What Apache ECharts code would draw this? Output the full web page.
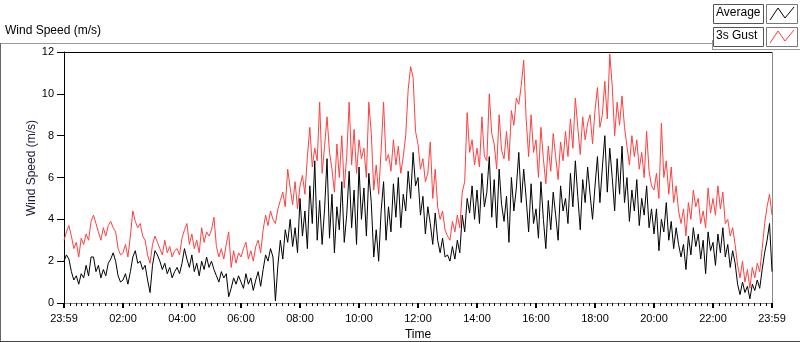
<!DOCTYPE html>
<html>
<head>
<meta charset="utf-8">
<script src="https://cdn.jsdelivr.net/npm/echarts@6/dist/echarts.min.js"></script>
<style>
  html, body { margin: 0; padding: 0; background: #fff; }
  #chart { width: 800px; height: 342px; }
</style>
</head>
<body>
<div id="chart"></div>
<script>
// one reading every 5 minutes, starting 23:59
var stepMin = 5;
var tickLabels = ['23:59', '02:00', '04:00', '06:00', '08:00', '10:00', '12:00',
  '14:00', '16:00', '18:00', '20:00', '22:00', '23:59'];

var average = [
  2.0, 2.3, 2.1, 1.5, 1.1, 1.3, 0.9, 1.4, 1.2, 1.8, 1.3, 2.2,
  2.2, 1.5, 1.8, 1.2, 1.6, 1.3, 1.9, 2.1, 2.4, 2.0, 1.3, 1.0,
  1.1, 1.4, 0.9, 1.5, 2.2, 2.5, 1.9, 2.0, 1.6, 1.8, 1.1, 0.5,
  1.8, 2.5, 2.3, 2.0, 1.6, 1.9, 1.4, 1.7, 1.2, 1.5, 1.7, 1.4,
  1.9, 2.6, 2.1, 1.7, 2.3, 1.5, 1.9, 1.3, 2.0, 1.6, 2.2, 1.7,
  2.0, 1.6, 1.3, 1.0, 1.5, 1.2, 1.4, 0.3, 0.7, 1.2, 0.9, 1.3,
  1.0, 0.7, 1.4, 0.9, 1.2, 0.6, 1.1, 1.5, 0.8, 1.6, 2.3, 2.0,
  2.6, 2.2, 0.1, 1.8, 3.0, 2.1, 3.5, 2.9, 4.0, 2.7, 3.6, 2.4,
  5.0, 3.2, 4.4, 2.6, 5.6, 3.8, 6.8, 3.0, 4.9, 2.8, 4.5, 6.9,
  3.1, 5.2, 2.4, 4.6, 3.5, 5.8, 2.9, 4.2, 6.3, 3.6, 5.4, 2.8,
  6.5, 4.0, 5.5, 3.2, 6.2, 4.8, 2.2, 3.5, 2.0, 4.4, 5.8, 3.0,
  4.6, 3.4, 5.7, 4.1, 6.0, 3.6, 5.2, 4.4, 6.3, 5.0, 7.2, 5.6,
  6.0, 4.2, 5.1, 3.3, 4.6, 3.8, 2.8, 4.3, 3.0, 2.4, 3.1, 2.2,
  2.3, 2.0, 2.7, 2.1, 3.0, 2.4, 4.2, 3.4, 5.0, 4.3, 5.6, 4.0,
  5.4, 3.8, 6.2, 4.6, 5.3, 7.0, 4.1, 5.9, 3.6, 6.4, 4.7, 3.9,
  5.1, 2.9, 6.0, 4.4, 5.5, 7.2, 4.8, 6.4, 5.0, 3.4, 5.7, 3.8,
  4.5, 3.1, 5.8, 4.0, 2.6, 4.9, 3.5, 5.3, 4.2, 3.0, 5.6, 4.4,
  5.0, 3.8, 6.2, 4.6, 6.8, 5.1, 3.5, 5.9, 4.8, 6.5, 5.2, 4.0,
  5.6, 7.0, 4.8, 6.5, 8.0, 5.3, 7.4, 6.0, 4.4, 6.9, 5.2, 7.5,
  4.8, 6.0, 3.9, 5.4, 4.4, 5.9, 3.7, 5.0, 4.2, 5.6, 3.6, 4.5,
  3.3, 4.5, 2.5, 4.0, 3.4, 4.8, 3.0, 3.9, 2.6, 3.6, 2.8, 2.2,
  2.8, 1.6, 3.2, 2.3, 3.6, 2.7, 3.3, 2.1, 3.0, 1.4, 3.4, 2.5,
  2.9, 1.8, 3.3, 2.4, 3.6, 2.2, 2.8, 1.7, 2.5, 1.9, 0.9, 0.4,
  1.0, 0.5, 0.8, 0.2, 0.9, 0.6, 1.1, 0.7, 1.6, 2.4, 3.0, 3.8, 1.5
];

var gust = [
  3.0, 3.4, 3.7, 3.2, 2.6, 2.9, 2.2, 3.1, 2.8, 3.3, 3.0, 3.9,
  4.2, 3.8, 3.4, 3.0, 3.6, 3.2, 3.7, 3.9, 3.6, 3.4, 2.6, 2.3,
  2.4, 2.8, 2.2, 3.2, 4.4, 3.9, 3.6, 3.8, 3.2, 3.0, 2.3, 1.9,
  2.8, 3.2, 2.9, 2.6, 2.3, 3.0, 2.4, 2.7, 2.2, 2.5, 2.6, 2.3,
  3.1, 3.5, 3.8, 2.8, 3.3, 2.6, 3.0, 2.4, 3.6, 2.9, 3.4, 3.2,
  3.5, 4.1, 2.7, 2.2, 2.6, 2.1, 2.8, 3.4, 1.7, 2.5, 1.9, 2.4,
  2.2, 2.6, 2.9, 2.1, 2.5, 2.0, 2.7, 3.0, 2.4, 3.5, 4.2, 3.7,
  4.4, 4.0, 3.8, 4.5, 4.9, 5.3, 4.6, 6.4, 5.5, 4.7, 5.8, 4.5,
  5.6, 6.1, 5.2, 7.0, 8.4, 6.5, 7.4, 6.8, 9.6, 6.2, 7.5, 8.9,
  7.2, 6.4, 5.3, 7.6, 6.0, 8.0, 5.5, 7.0, 9.6, 6.6, 8.3, 6.2,
  7.8, 6.9, 7.4, 6.0, 9.6, 8.1, 5.4, 6.6, 5.2, 7.3, 9.6, 6.8,
  7.1, 6.3, 7.8, 6.6, 7.5, 6.2, 7.0, 8.0, 10.2, 11.3, 10.8, 8.2,
  7.6, 6.4, 6.9, 5.8, 6.2, 7.7, 5.0, 6.4, 4.6, 4.0, 4.4, 3.5,
  3.2, 3.0, 3.9, 3.4, 4.2, 3.6, 5.3, 5.8, 9.1, 7.2, 7.8, 6.6,
  7.4, 6.5, 8.9, 7.0, 6.8, 10.0, 8.1, 7.6, 6.4, 9.0, 7.3, 6.9,
  8.2, 6.8, 9.2, 8.5, 9.8, 9.5, 10.4, 11.6, 8.8, 7.0, 9.0, 7.2,
  7.8, 6.0, 8.4, 6.9, 5.7, 7.5, 6.3, 8.1, 7.0, 5.9, 7.7, 6.8,
  8.2, 7.0, 8.8, 7.4, 9.8, 8.4, 7.1, 8.9, 7.8, 8.6, 9.0, 7.6,
  9.2, 10.3, 8.4, 9.0, 10.6, 8.8, 11.9, 10.4, 8.0, 9.6, 8.5, 9.9,
  8.4, 7.5, 6.6, 8.0, 7.0, 7.8, 6.4, 7.2, 6.0, 8.2, 6.3, 5.6,
  5.4, 6.2, 5.0, 8.6, 6.0, 6.8, 5.2, 6.5, 4.8, 5.6, 4.4, 3.8,
  4.5, 3.2, 4.8, 4.0, 5.4, 4.6, 5.0, 3.8, 4.4, 3.6, 5.5, 4.3,
  5.0, 4.2, 5.6, 4.5, 5.3, 3.8, 4.0, 3.2, 3.6, 2.8, 1.8, 1.2,
  2.0, 1.0, 1.6, 0.7, 1.7, 1.2, 1.9, 1.5, 2.6, 3.8, 4.6, 5.2, 4.2
];

function toPairs(arr) {
  return arr.map(function (v, i) { return [i * stepMin, v]; });
}

var font = 'Liberation Sans, Arial, sans-serif';
var myChart = echarts.init(document.getElementById('chart'));
var option = {
  animation: false,
  backgroundColor: '#fff',
  textStyle: { fontFamily: font },
  grid: {
    left: 64, right: 28, top: 52, bottom: 39,
    outerBoundsMode: 'none', containLabel: false,
    show: true, backgroundColor: '#fff', borderWidth: 0
  },
  xAxis: {
    type: 'value',
    min: 0,
    max: 1440,
    interval: 120,
    name: 'Time',
    nameLocation: 'middle',
    nameGap: 26,
    nameTextStyle: { color: '#000', fontSize: 12, fontFamily: font },
    axisLine: { lineStyle: { color: '#888', width: 1 } },
    axisTick: { length: 5, lineStyle: { color: '#000', width: 2 } },
    minorTick: { show: true, splitNumber: 10, length: 3, lineStyle: { color: '#000', width: 1 } },
    splitLine: { show: false },
    axisLabel: {
      color: '#000', fontSize: 11, fontFamily: font, margin: 10,
      formatter: function (v) { return tickLabels[Math.round(v / 120)]; }
    }
  },
  yAxis: {
    type: 'value',
    min: 0,
    max: 12,
    interval: 2,
    axisLine: { show: true, lineStyle: { color: '#000', width: 1 } },
    axisTick: { show: true, length: 7, lineStyle: { color: '#000' } },
    splitLine: { show: false },
    axisLabel: { color: '#000', fontSize: 11, fontFamily: font, margin: 10 }
  },
  graphic: [
    { type: 'text', left: 5, top: 25, style: { text: 'Wind Speed (m/s)', fontSize: 12, fontFamily: font, fill: '#000' } },
    { type: 'line', shape: { x1: 0, y1: 43.5, x2: 712, y2: 43.5 }, style: { stroke: '#999', lineWidth: 1 } },
    { type: 'line', shape: { x1: 712.5, y1: 40, x2: 712.5, y2: 49 }, style: { stroke: '#999', lineWidth: 1 } },
    { type: 'line', shape: { x1: 712, y1: 49.5, x2: 800, y2: 49.5 }, style: { stroke: '#999', lineWidth: 1 } },
    { type: 'line', shape: { x1: 0.5, y1: 43, x2: 0.5, y2: 342 }, style: { stroke: '#666', lineWidth: 1 } },
    { type: 'line', shape: { x1: 0, y1: 341.5, x2: 800, y2: 341.5 }, style: { stroke: '#444', lineWidth: 1 } },
    { type: 'line', shape: { x1: 64, y1: 52.5, x2: 772, y2: 52.5 }, style: { stroke: '#000', lineWidth: 1 } },
    { type: 'line', shape: { x1: 772.5, y1: 52, x2: 772.5, y2: 303 }, style: { stroke: '#888', lineWidth: 1 } },
    // legend
    { type: 'rect', shape: { x: 713.5, y: 4.5, width: 50, height: 19 }, style: { fill: '#fff', stroke: '#555' } },
    { type: 'text', left: 716, top: 7, style: { text: 'Average', fontSize: 12, fontFamily: font, fill: '#000' } },
    { type: 'rect', shape: { x: 766.5, y: 4.5, width: 31, height: 19 }, style: { fill: '#fff', stroke: '#777' } },
    { type: 'polyline', shape: { points: [[770, 20], [778, 8], [785, 18], [794, 7]] }, style: { stroke: '#000', lineWidth: 1, fill: null } },
    { type: 'rect', shape: { x: 713.5, y: 27.5, width: 50, height: 19 }, style: { fill: '#fff', stroke: '#555' } },
    { type: 'text', left: 716, top: 30, style: { text: '3s Gust', fontSize: 12, fontFamily: font, fill: '#000' } },
    { type: 'rect', shape: { x: 766.5, y: 27.5, width: 31, height: 19 }, style: { fill: '#fff', stroke: '#777' } },
    { type: 'polyline', shape: { points: [[770, 43], [778, 31], [785, 41], [794, 30]] }, style: { stroke: '#ff3a3a', lineWidth: 1, fill: null } },
    { type: 'text', x: 32, y: 168, rotation: Math.PI / 2,
      style: { text: 'Wind Speed (m/s)', fontSize: 12, fontFamily: font, fill: '#1a1a3a', align: 'center', verticalAlign: 'middle' } }
  ],
  series: [
    {
      name: '3s Gust',
      type: 'line',
      data: toPairs(gust),
      showSymbol: false,
      lineStyle: { color: '#ff4040', width: 1 },
      itemStyle: { color: '#ff4040' }
    },
    {
      name: 'Average',
      type: 'line',
      data: toPairs(average),
      showSymbol: false,
      lineStyle: { color: '#000', width: 1 },
      itemStyle: { color: '#000' }
    }
  ]
};
myChart.setOption(option);
</script>
</body>
</html>
